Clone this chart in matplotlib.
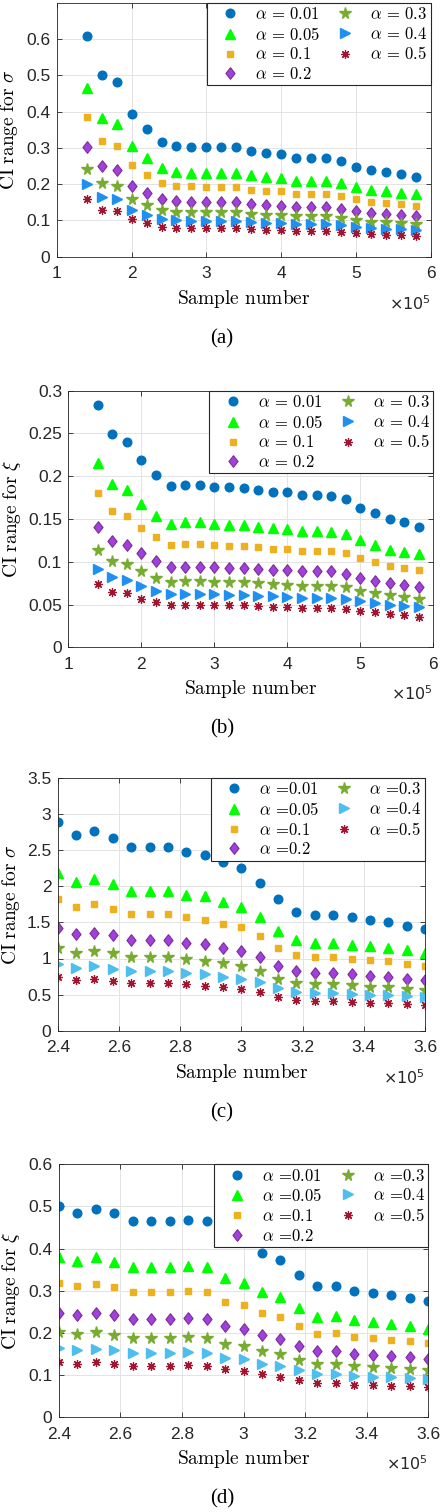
import matplotlib
matplotlib.use('Agg')
import matplotlib.pyplot as plt
from matplotlib.ticker import FixedLocator, FixedFormatter

plt.rcParams['mathtext.fontset'] = 'cm'
plt.rcParams['font.family'] = ['Liberation Sans', 'DejaVu Sans']

# ---------------- data ----------------
alpha_labels = ['0.01', '0.05', '0.1', '0.2', '0.3', '0.4', '0.5']

x_ab = [140000, 160000, 180000, 200000, 220000, 240000, 260000, 280000, 300000,
        320000, 340000, 360000, 380000, 400000, 420000, 440000, 460000, 480000,
        500000, 520000, 540000, 560000, 580000]
x_cd = [240000, 246000, 252000, 258000, 264000, 270000, 276000, 282000, 288000,
        294000, 300000, 306000, 312000, 318000, 324000, 330000, 336000, 342000,
        348000, 354000, 360000]

# (a) CI range for sigma
a_001 = [0.607, 0.502, 0.481, 0.394, 0.352, 0.317, 0.305, 0.303, 0.302, 0.302, 0.302, 0.291,
         0.286, 0.283, 0.273, 0.273, 0.273, 0.263, 0.246, 0.239, 0.233, 0.227, 0.220]
a_005 = [0.464, 0.383, 0.367, 0.305, 0.272, 0.245, 0.234, 0.232, 0.232, 0.232, 0.232, 0.225,
         0.220, 0.218, 0.210, 0.210, 0.210, 0.204, 0.192, 0.184, 0.181, 0.176, 0.172]
a_01 = [0.386, 0.319, 0.306, 0.252, 0.226, 0.203, 0.195, 0.194, 0.193, 0.193, 0.193, 0.185,
        0.182, 0.180, 0.174, 0.174, 0.174, 0.168, 0.158, 0.152, 0.149, 0.145, 0.141]
a_02 = [0.301, 0.250, 0.239, 0.196, 0.176, 0.159, 0.153, 0.151, 0.150, 0.150, 0.150, 0.146,
        0.143, 0.141, 0.137, 0.137, 0.137, 0.131, 0.125, 0.120, 0.117, 0.115, 0.111]
a_03 = [0.243, 0.203, 0.194, 0.160, 0.143, 0.128, 0.124, 0.122, 0.122, 0.122, 0.122, 0.118,
        0.116, 0.115, 0.111, 0.111, 0.111, 0.106, 0.101, 0.097, 0.095, 0.094, 0.091]
a_04 = [0.199, 0.164, 0.158, 0.129, 0.116, 0.104, 0.100, 0.099, 0.099, 0.099, 0.099, 0.095,
        0.094, 0.093, 0.090, 0.090, 0.090, 0.086, 0.082, 0.079, 0.077, 0.075, 0.073]
a_05 = [0.158, 0.130, 0.125, 0.103, 0.092, 0.083, 0.080, 0.079, 0.078, 0.078, 0.078, 0.075,
        0.074, 0.073, 0.072, 0.072, 0.072, 0.069, 0.065, 0.063, 0.061, 0.060, 0.058]

# (b) CI range for xi
b_001 = [0.283, 0.249, 0.240, 0.219, 0.201, 0.189, 0.190, 0.190, 0.187, 0.187, 0.186, 0.184,
         0.181, 0.181, 0.178, 0.178, 0.177, 0.173, 0.163, 0.157, 0.150, 0.146, 0.141]
b_005 = [0.216, 0.191, 0.184, 0.167, 0.154, 0.144, 0.146, 0.146, 0.144, 0.143, 0.143, 0.141,
         0.139, 0.138, 0.136, 0.136, 0.135, 0.132, 0.125, 0.120, 0.114, 0.112, 0.109]
b_01 = [0.180, 0.159, 0.153, 0.140, 0.129, 0.120, 0.121, 0.121, 0.120, 0.119, 0.119, 0.117,
        0.115, 0.115, 0.113, 0.113, 0.113, 0.110, 0.104, 0.100, 0.095, 0.093, 0.090]
b_02 = [0.141, 0.124, 0.120, 0.110, 0.101, 0.094, 0.094, 0.094, 0.094, 0.093, 0.093, 0.092,
        0.090, 0.090, 0.089, 0.089, 0.089, 0.086, 0.081, 0.078, 0.075, 0.073, 0.070]
b_03 = [0.114, 0.101, 0.097, 0.089, 0.081, 0.076, 0.077, 0.077, 0.076, 0.076, 0.076, 0.075,
        0.074, 0.073, 0.072, 0.072, 0.072, 0.070, 0.066, 0.063, 0.061, 0.059, 0.057]
b_04 = [0.092, 0.082, 0.079, 0.072, 0.066, 0.062, 0.062, 0.062, 0.062, 0.061, 0.061, 0.060,
        0.060, 0.059, 0.058, 0.058, 0.058, 0.057, 0.054, 0.052, 0.049, 0.048, 0.047]
b_05 = [0.074, 0.065, 0.063, 0.057, 0.053, 0.049, 0.049, 0.049, 0.049, 0.049, 0.049, 0.048,
        0.047, 0.047, 0.046, 0.046, 0.046, 0.045, 0.042, 0.041, 0.039, 0.038, 0.036]

# (c) CI range for sigma
c_001 = [2.89, 2.71, 2.76, 2.67, 2.55, 2.55, 2.55, 2.48, 2.43, 2.34, 2.25, 2.05, 1.82, 1.64,
         1.60, 1.60, 1.57, 1.53, 1.51, 1.45, 1.41]
c_005 = [2.19, 2.06, 2.10, 2.03, 1.94, 1.94, 1.94, 1.88, 1.86, 1.78, 1.72, 1.57, 1.38, 1.25,
         1.22, 1.22, 1.19, 1.17, 1.15, 1.12, 1.08]
c_01 = [1.82, 1.72, 1.75, 1.69, 1.62, 1.62, 1.62, 1.57, 1.54, 1.48, 1.43, 1.31, 1.15, 1.05,
        1.02, 1.02, 1.00, 0.98, 0.96, 0.93, 0.90]
c_02 = [1.42, 1.34, 1.36, 1.32, 1.26, 1.26, 1.26, 1.22, 1.20, 1.15, 1.11, 1.02, 0.90, 0.82,
        0.80, 0.80, 0.78, 0.76, 0.75, 0.72, 0.70]
c_03 = [1.14, 1.08, 1.10, 1.07, 1.02, 1.02, 1.02, 0.99, 0.97, 0.94, 0.90, 0.83, 0.72, 0.66,
        0.64, 0.64, 0.63, 0.61, 0.60, 0.58, 0.56]
c_04 = [0.93, 0.87, 0.89, 0.86, 0.83, 0.83, 0.83, 0.80, 0.78, 0.75, 0.72, 0.67, 0.59, 0.54,
        0.52, 0.52, 0.51, 0.50, 0.49, 0.48, 0.46]
c_05 = [0.74, 0.70, 0.72, 0.69, 0.66, 0.66, 0.66, 0.64, 0.62, 0.60, 0.58, 0.53, 0.47, 0.42,
        0.41, 0.41, 0.40, 0.39, 0.38, 0.37, 0.36]

# (d) CI range for xi
d_001 = [0.500, 0.485, 0.495, 0.485, 0.466, 0.466, 0.466, 0.468, 0.466, 0.432, 0.420, 0.390,
         0.372, 0.338, 0.310, 0.311, 0.300, 0.295, 0.289, 0.282, 0.275]
d_005 = [0.381, 0.371, 0.379, 0.369, 0.357, 0.357, 0.357, 0.359, 0.357, 0.329, 0.319, 0.297,
         0.285, 0.258, 0.238, 0.239, 0.230, 0.225, 0.221, 0.216, 0.210]
d_01 = [0.319, 0.310, 0.316, 0.309, 0.297, 0.297, 0.297, 0.299, 0.297, 0.274, 0.266, 0.248,
        0.237, 0.215, 0.198, 0.199, 0.191, 0.187, 0.184, 0.180, 0.176]
d_02 = [0.248, 0.242, 0.247, 0.241, 0.232, 0.232, 0.232, 0.234, 0.232, 0.215, 0.208, 0.194,
        0.185, 0.168, 0.156, 0.157, 0.150, 0.147, 0.145, 0.142, 0.138]
d_03 = [0.202, 0.196, 0.201, 0.195, 0.188, 0.188, 0.188, 0.190, 0.188, 0.174, 0.169, 0.157,
        0.150, 0.136, 0.126, 0.126, 0.121, 0.119, 0.116, 0.114, 0.111]
d_04 = [0.163, 0.158, 0.162, 0.158, 0.153, 0.153, 0.153, 0.154, 0.153, 0.141, 0.137, 0.127,
        0.122, 0.111, 0.102, 0.103, 0.098, 0.096, 0.094, 0.092, 0.090]
d_05 = [0.131, 0.126, 0.130, 0.126, 0.122, 0.122, 0.122, 0.123, 0.122, 0.114, 0.109, 0.102,
        0.096, 0.088, 0.081, 0.081, 0.077, 0.076, 0.074, 0.073, 0.071]

xt_ab = [100000, 200000, 300000, 400000, 500000, 600000]
xtl_ab = ['1', '2', '3', '4', '5', '6']
xt_cd = [240000, 260000, 280000, 300000, 320000, 340000, 360000]
xtl_cd = ['2.4', '2.6', '2.8', '3', '3.2', '3.4', '3.6']
yt_a = [0, 0.1, 0.2, 0.3, 0.4, 0.5, 0.6]
ytl_a = ['0', '0.1', '0.2', '0.3', '0.4', '0.5', '0.6']
yt_b = [0, 0.05, 0.1, 0.15, 0.2, 0.25, 0.3]
ytl_b = ['0', '0.05', '0.1', '0.15', '0.2', '0.25', '0.3']
yt_c = [0, 0.5, 1, 1.5, 2, 2.5, 3, 3.5]
ytl_c = ['0', '0.5', '1', '1.5', '2', '2.5', '3', '3.5']
yt_d = [0, 0.1, 0.2, 0.3, 0.4, 0.5, 0.6]
ytl_d = ['0', '0.1', '0.2', '0.3', '0.4', '0.5', '0.6']

# ---------------- layout / style ----------------
W, H = 440, 1512
fig = plt.figure(figsize=(W / 100, H / 100), dpi=100)

def fx(px):
    return px / W

def fy(py):
    return 1 - py / H

AX_COL = '#262626'
diamond = [(0, 1), (0.78, 0), (0, -1), (-0.78, 0), (0, 1)]

def styles(tri_col):
    return [
        dict(marker='o', mfc='#0072BD', mec='#0072BD', ms=6.2),
        dict(marker='^', mfc='#00FF00', mec='#00FF00', ms=7.2),
        dict(marker='s', mfc='#EDB120', mec='#EDB120', ms=5.0),
        dict(marker=diamond, mfc='#A040E0', mec='#7E2F8E', ms=8.4, mew=0.8),
        dict(marker='*', mfc='#77AC30', mec='#77AC30', ms=8.5),
        dict(marker='>', mfc=tri_col, mec=tri_col, ms=7.0),
        dict(marker=(8, 2, 0), mfc='#A2142F', mec='#A2142F', ms=6.2, mew=0.9),
    ]

panels = [
    dict(box=(56.7, 431, 2.7, 256.7), x=x_ab, ys=[a_001, a_005, a_01, a_02, a_03, a_04, a_05],
         xlim=(100000, 600000), ylim=(0, 0.7), xt=xt_ab, xtl=xtl_ab, yt=yt_a, ytl=ytl_a,
         ylabel=r'$\mathrm{CI\ range\ for\ }\sigma$', ylx=9, cap='(a)', tri='#2090F0', eq=r'\,=\,'),
    dict(box=(68.3, 433.3, 390.7, 647.3), x=x_ab, ys=[b_001, b_005, b_01, b_02, b_03, b_04, b_05],
         xlim=(100000, 600000), ylim=(0, 0.3), xt=xt_ab, xtl=xtl_ab, yt=yt_b, ytl=ytl_b,
         ylabel=r'$\mathrm{CI\ range\ for\ }\xi$', ylx=12, cap='(b)', tri='#2090F0', eq=r'\,=\,'),
    dict(box=(57.7, 425, 778, 1030.7), x=x_cd, ys=[c_001, c_005, c_01, c_02, c_03, c_04, c_05],
         xlim=(240000, 360000), ylim=(0, 3.5), xt=xt_cd, xtl=xtl_cd, yt=yt_c, ytl=ytl_c,
         ylabel=r'$\mathrm{CI\ range\ for\ }\sigma$', ylx=11, cap='(c)', tri='#4DBEEE', eq=r'\,=\!'),
    dict(box=(58.7, 428.3, 1164.3, 1417), x=x_cd, ys=[d_001, d_005, d_01, d_02, d_03, d_04, d_05],
         xlim=(240000, 360000), ylim=(0, 0.6), xt=xt_cd, xtl=xtl_cd, yt=yt_d, ytl=ytl_d,
         ylabel=r'$\mathrm{CI\ range\ for\ }\xi$', ylx=11, cap='(d)', tri='#4DBEEE', eq=r'\,=\!'),
]

for p in panels:
    l, r, t, b = p['box']
    ax = fig.add_axes([fx(l), fy(b), (r - l) / W, (b - t) / H])
    for ys, st, lab in zip(p['ys'], styles(p['tri']), alpha_labels):
        ax.plot(p['x'], ys, linestyle='none', label=r'$\alpha' + p['eq'] + lab + '$', **st)
    ax.set_xlim(*p['xlim'])
    ax.set_ylim(*p['ylim'])
    ax.xaxis.set_major_locator(FixedLocator(p['xt']))
    ax.xaxis.set_major_formatter(FixedFormatter(p['xtl']))
    ax.yaxis.set_major_locator(FixedLocator(p['yt']))
    ax.yaxis.set_major_formatter(FixedFormatter(p['ytl']))
    ax.grid(True, color='#E3E3E3', linewidth=0.7)
    ax.set_axisbelow(True)
    for s in ax.spines.values():
        s.set_color(AX_COL)
        s.set_linewidth(0.6)
    ax.tick_params(direction='in', length=3.5, width=0.6, color=AX_COL, labelcolor=AX_COL,
                   labelsize=12.5, top=True, right=True)
    ax.tick_params(axis='x', pad=7)
    ax.tick_params(axis='y', pad=4.5)
    leg = ax.legend(ncol=2, loc='upper right', borderaxespad=0, fontsize=12,
                    fancybox=False, framealpha=1, edgecolor=AX_COL, numpoints=1,
                    handlelength=2.4, handletextpad=0.3, columnspacing=0.3,
                    borderpad=0.2, labelspacing=0.22)
    leg.get_frame().set_linewidth(0.8)
    leg.set_zorder(5)
    # axis labels
    fig.text(fx((l + r) / 2), fy(b + 47), r'$\mathrm{Sample\ number}$', ha='center',
             va='baseline', fontsize=14, color='black')
    fig.text(fx(p['ylx']), fy((t + b) / 2), p['ylabel'], rotation=90, ha='center',
             va='center', fontsize=14, color='black')
    fig.text(fx(r), fy(b + 53), r'$\times10^{5}$', ha='right', va='baseline',
             fontsize=11.5, color=AX_COL, math_fontfamily='dejavusans')
    fig.text(fx(222), fy(b + 82), p['cap'], ha='center', va='center', fontsize=15,
             family='Liberation Serif', color='black')

fig.savefig('out.png', dpi=100)
